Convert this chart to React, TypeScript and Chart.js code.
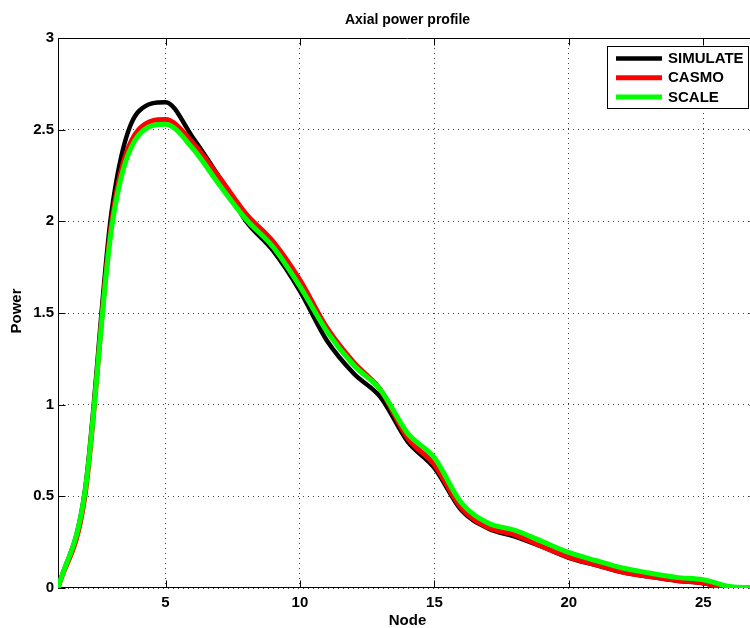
import React, { useEffect, useRef } from "react";
import { Chart, registerables } from "chart.js";

Chart.register(...registerables);

// Axial power per node for the three codes
const nodes = [1, 2, 3, 4, 5, 6, 7, 8, 9, 10, 11, 12, 13, 14, 15, 16, 17, 18, 19, 20, 21, 22, 23, 24, 25, 26, 27];
const simulate = [0, 0.53, 2.06, 2.6, 2.65, 2.46, 2.24, 2.0, 1.84, 1.62, 1.35, 1.17, 1.04, 0.8, 0.655, 0.425, 0.325, 0.28, 0.225, 0.165, 0.125, 0.085, 0.062, 0.04, 0.026, 0.0, 0.0];
const casmo = [0, 0.5, 2.0, 2.5, 2.555, 2.43, 2.24, 2.04, 1.89, 1.68, 1.42, 1.23, 1.08, 0.82, 0.672, 0.437, 0.33, 0.29, 0.227, 0.169, 0.127, 0.087, 0.063, 0.041, 0.027, 0.0, 0.0];
const scale = [0, 0.52, 1.97, 2.47, 2.53, 2.4, 2.2, 2.01, 1.86, 1.645, 1.4, 1.215, 1.08, 0.845, 0.71, 0.465, 0.355, 0.315, 0.254, 0.194, 0.15, 0.109, 0.082, 0.058, 0.045, 0.008, 0.0];

const seriesLabels = ["SIMULATE", "CASMO", "SCALE"];
const seriesColors = ["#000000", "#ff0000", "#00ff00"];
const seriesWidths = [4.5, 5, 5];

const xTicks = [5, 10, 15, 20, 25];
const yTicks = [0, 0.5, 1, 1.5, 2, 2.5, 3];

const titleText = "Axial power profile";
const xTitle = "Node";
const yTitle = "Power";

const FONT = "'Liberation Sans', Arial, Helvetica, sans-serif";
const TICK_LEN = 7;

// Axes box with inward tick marks, drawn underneath the curves
const framePlugin = {
  id: "frameBox",
  beforeDatasetsDraw(chart: any) {
    const { ctx, chartArea: ca, scales } = chart;
    const xs = scales.x;
    const ys = scales.y;
    ctx.save();
    ctx.strokeStyle = "#000";
    ctx.lineWidth = 1;
    ctx.beginPath();
    const L = Math.round(ca.left) + 0.5;
    const R = Math.round(ca.right) - 0.5;
    const T = Math.round(ca.top) + 0.5;
    const B = Math.round(ca.bottom) - 0.5;
    ctx.rect(L, T, R - L, B - T);
    xs.ticks.forEach((t: any) => {
      const px = Math.round(xs.getPixelForValue(t.value)) + 0.5;
      ctx.moveTo(px, B);
      ctx.lineTo(px, B - TICK_LEN);
      ctx.moveTo(px, T);
      ctx.lineTo(px, T + TICK_LEN);
    });
    ys.ticks.forEach((t: any) => {
      const py = Math.round(ys.getPixelForValue(t.value)) + 0.5;
      ctx.moveTo(L, py);
      ctx.lineTo(L + TICK_LEN, py);
      ctx.moveTo(R, py);
      ctx.lineTo(R - TICK_LEN, py);
    });
    ctx.stroke();
    ctx.restore();
  },
};

// Title, axis labels and the boxed legend
const labelsPlugin = {
  id: "plotLabels",
  afterDraw(chart: any) {
    const { ctx, chartArea: ca } = chart;
    const cx = (ca.left + ca.right) / 2;
    ctx.save();
    ctx.fillStyle = "#000";
    ctx.textAlign = "center";
    ctx.textBaseline = "middle";

    ctx.font = `bold 14px ${FONT}`;
    ctx.fillText(titleText, cx, ca.top - 18);

    ctx.font = `bold 15px ${FONT}`;
    ctx.fillText(xTitle, cx, ca.bottom + 33);

    ctx.save();
    ctx.translate(ca.left - 41, (ca.top + ca.bottom) / 2 - 2);
    ctx.rotate(-Math.PI / 2);
    ctx.fillText(yTitle, 0, 0);
    ctx.restore();

    // legend
    const bx = ca.right - 150;
    const by = ca.top + 8;
    const bw = 141;
    const bh = 62;
    ctx.fillStyle = "#fff";
    ctx.fillRect(bx, by, bw, bh);
    ctx.strokeStyle = "#000";
    ctx.lineWidth = 1;
    ctx.strokeRect(Math.round(bx) + 0.5, Math.round(by) + 0.5, bw, bh);
    ctx.font = `bold 15px ${FONT}`;
    ctx.textAlign = "left";
    chart.data.datasets.forEach((ds: any, i: number) => {
      const y = by + 12.5 + i * 19.2;
      ctx.beginPath();
      ctx.strokeStyle = ds.borderColor;
      ctx.lineWidth = ds.borderWidth;
      ctx.moveTo(bx + 9, y);
      ctx.lineTo(bx + 55, y);
      ctx.stroke();
      ctx.fillStyle = "#000";
      ctx.fillText(ds.label, bx + 61, y + 0.5);
    });
    ctx.restore();
  },
};

export default function App() {
  const canvasRef = useRef<HTMLCanvasElement | null>(null);

  useEffect(() => {
    document.body.style.margin = "0";
    const canvas = canvasRef.current;
    if (!canvas) return;

    const series = [simulate, casmo, scale];
    const datasets = series.map((values, i) => ({
      label: seriesLabels[i],
      data: nodes.map((n, k) => ({ x: n, y: values[k] })),
      borderColor: seriesColors[i],
      backgroundColor: seriesColors[i],
      borderWidth: seriesWidths[i],
      pointRadius: 0,
      pointHoverRadius: 0,
      cubicInterpolationMode: "monotone" as const,
      borderCapStyle: "round" as const,
      borderJoinStyle: "round" as const,
      fill: false,
      order: series.length - i,
    }));

    const tickFont = { family: FONT, size: 15, weight: "bold" as const };

    const chart = new Chart(canvas, {
      type: "line",
      data: { datasets },
      plugins: [framePlugin, labelsPlugin],
      options: {
        responsive: false,
        animation: false,
        devicePixelRatio: 1,
        layout: { padding: { top: 38, right: 8, left: 0, bottom: 0 } },
        plugins: {
          legend: { display: false },
          title: { display: false },
          tooltip: { enabled: false },
        },
        events: [],
        scales: {
          x: {
            type: "linear",
            min: 1,
            max: 27,
            afterBuildTicks: (s: any) => {
              s.ticks = xTicks.map((v) => ({ value: v }));
            },
            afterFit: (s: any) => {
              s.height = 40;
            },
            ticks: {
              font: tickFont,
              color: "#000",
              padding: 6,
              maxRotation: 0,
              autoSkip: false,
              callback: (v: any) => String(v),
            },
            grid: {
              color: "rgba(0,0,0,0.75)",
              lineWidth: 1,
              drawTicks: false,
            },
            border: { display: false, dash: [1, 4] },
          },
          y: {
            type: "linear",
            min: 0,
            max: 3,
            afterBuildTicks: (s: any) => {
              s.ticks = yTicks.map((v) => ({ value: v }));
            },
            afterFit: (s: any) => {
              s.width = 58;
            },
            ticks: {
              font: tickFont,
              color: "#000",
              padding: 4,
              autoSkip: false,
              callback: (v: any) => String(v),
            },
            grid: {
              color: "rgba(0,0,0,0.75)",
              lineWidth: 1,
              drawTicks: false,
            },
            border: { display: false, dash: [1, 4] },
          },
        },
      },
    });

    return () => chart.destroy();
  }, []);

  return (
    <div style={{ width: 750, height: 628, overflow: "hidden", position: "relative", background: "#fff" }}>
      <canvas ref={canvasRef} width={765} height={628} style={{ display: "block" }} />
    </div>
  );
}
